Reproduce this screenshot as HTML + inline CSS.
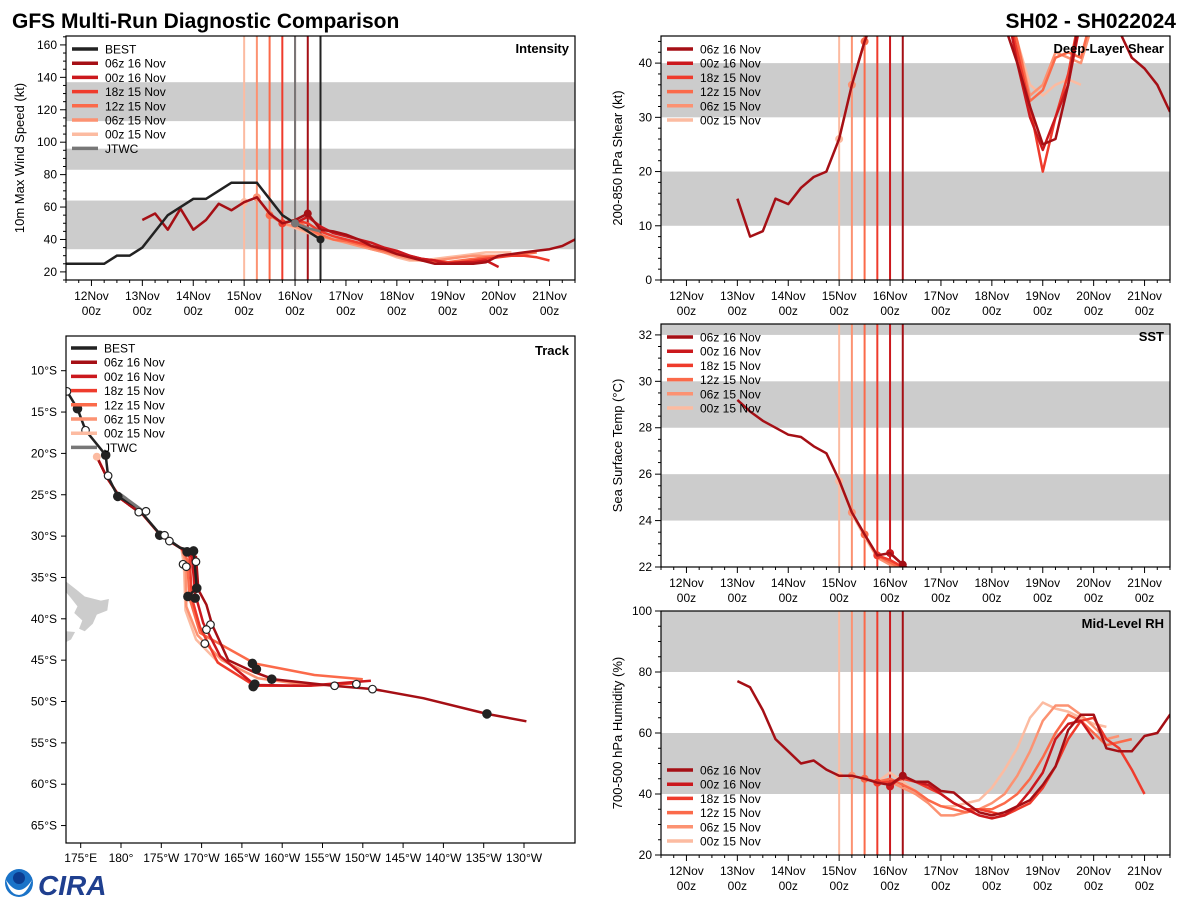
<!DOCTYPE html>
<html><head><meta charset="utf-8">
<style>
html,body{margin:0;padding:0;background:#fff;}
svg{display:block;font-family:"Liberation Sans","DejaVu Sans",sans-serif;}
</style></head>
<body>
<svg id="chart" width="1200" height="900" viewBox="0 0 1200 900" xmlns="http://www.w3.org/2000/svg">
<text x="12" y="28" font-size="21" font-weight="bold" fill="#000">GFS Multi-Run Diagnostic Comparison</text>
<text x="1176" y="28" font-size="21" font-weight="bold" fill="#000" text-anchor="end">SH02 - SH022024</text>
<g>
<circle cx="19" cy="883" r="14" fill="#1a73c8"/>
<path d="M6,880 Q19,900 32,880 Q26,895 19,895 Q10,895 6,880Z" fill="#fff"/>
<circle cx="19" cy="878" r="6" fill="#0b3d91"/>
</g>
<text x="38" y="895" font-size="28" font-weight="bold" font-style="italic" fill="#1f3f8f">CIRA</text>
<g id="root"></g>
</svg>
<script>
const NS="http://www.w3.org/2000/svg";
const root=document.getElementById('root');
function mk(tag,attrs,parent){const e=document.createElementNS(NS,tag);for(const k in attrs)e.setAttribute(k,attrs[k]);(parent||root).appendChild(e);return e;}

/* ---------- data ---------- */
const runNames=["06z 16 Nov","00z 16 Nov","18z 15 Nov","12z 15 Nov","06z 15 Nov","00z 15 Nov"];
const runColors=["#a50f15","#cb181d","#ef3b2c","#fb6a4a","#fc9272","#fcbba1"];
const runInit=[16.25,16.0,15.75,15.5,15.25,15.0];
const runStart=[13.0,16.0,15.75,15.5,15.25,15.0];
const dayTicks=[12,13,14,15,16,17,18,19,20,21];
const dayLabels=["12Nov","13Nov","14Nov","15Nov","16Nov","17Nov","18Nov","19Nov","20Nov","21Nov"];

const bestStart=11.5;
const bestIntensity=[25,25,25,25,30,30,35,45,55,60,65,65,70,75,75,75,65,55,50,45,40];
const jtwcStart=16.0;
const jtwcIntensity=[50,47,45];
const intensityRuns=[
 [52,56,46,59,46,52,62,58,63,66,56,50,52,56,46,45,43,40,36,34,31,29,27,25,25,25,25,26,30,31,32,33,34,36,40],
 [50,54,48,44,42,40,38,35,33,30,28,27,25,26,26,27,23],
 [50,52,50,45,42,40,38,36,34,32,30,28,27,26,26,27,28,29,30,30,29,27],
 [55,50,52,47,43,40,39,37,35,33,31,29,27,26,26,27,28,29,30,30,31,32],
 [66,56,50,48,45,42,40,38,36,34,32,30,28,27,27,28,29,30,30,30,30],
 [63,66,55,50,47,44,42,40,38,36,34,32,29,27,27,28,29,30,31,32,32,32]
];
const shearRuns=[
 [15,8,9,15,14,17,19,20,26,36,44,50,55,58,60,60,60,60,60,60,60,47,40,32,25,26,36,50,55,52,46,41,39,36,31],
 [56,58,58,58,58,58,58,58,58,52,40,30,24,30,36,48,56],
 [52,56,58,58,58,58,58,58,58,58,52,42,32,20,30,38,50],
 [44,52,56,58,58,58,58,58,58,58,58,52,44,33,35,41,42,41,50],
 [36,44,52,56,58,58,58,58,58,58,58,58,52,44,34,36,42,41,40,48],
 [26,36,44,52,56,58,58,58,58,58,58,58,58,52,44,36,34,36,37,36]
];
const sstRuns=[
 [29.2,28.7,28.3,28.0,27.7,27.6,27.2,26.9,25.75,24.35,23.4,22.5,22.6,22.1,21.6,21.2,20.8],
 [22.6,22.1,21.7,21.3,21.0],
 [22.5,22.3,22.0,21.6,21.2],
 [23.4,22.5,22.2,21.9,21.5],
 [24.35,23.4,22.4,22.1,21.8,21.4],
 [25.7,24.3,23.3,22.4,22.1,21.9,21.5]
];
const rhRuns=[
 [77,75,67.5,58,54,50,51,48,46,46,45,43.7,43,46,44,44,41,40.5,37,34,33,34,36,38,43,49,61,66,66,55,54,54,59,60,66,66.5],
 [42.5,46,44,43,40,37,35,33,32,33,36,41,47,58,63,64,58],
 [43.7,44,45,44,42,40,37,35,35,34,33,35,37,42,49,58,64,65,58,55,48,40],
 [45,44,45,43,41,38,36,35,34,35,35,37,40,45,52,60,66,64,60,56,57,58],
 [46,45,44,44,42,40,37,33,33,34,35,37,40,46,54,64,69,69,66,62,58,59],
 [46,46,45,44,47,44,41,38,36,36,37,38,42,48,55,65,70,68,67,65,63,62]
];

/* track data: [lon east 0-360, lat south] */
const bestTrack=[[173.3,12.5],[174.6,14.6],[175.6,17.2],[178.1,20.2],[178.4,22.8],[179.6,25.2],[182,26.5],[184.6,29.5],[187.3,31.4],[189.0,31.8],[189.4,36.3],[188.3,37.3]];
const jtwcTrack=[[180,25],[182.5,26.8]];
const trackCommon=[[177.0,20.4],[178.3,23.0],[180,25.5],[182.8,27.5],[185,30],[187.5,31.5]];
const trackRuns=[
 [[189.3,32.5],[189.6,36.5],[190.6,38.3],[191.3,40.7],[193.3,45.0],[196.4,46.4],[198.9,47.3],[206.3,48.1],[211.3,48.5],[217.5,49.6],[225.4,51.5],[230.3,52.4]],
 [[188.8,32.5],[189.2,37],[190.2,40.5],[192.3,44.5],[196.6,48.0],[203,48.1],[211,47.5]],
 [[188.5,32.5],[188.8,37.5],[189.8,41],[192.0,45.3],[196.6,48.1],[203.4,48.1],[209,47.8]],
 [[188.2,32.8],[188.5,37.5],[189.8,41.7],[196.6,45.4],[204,46.8],[210,47.3]],
 [[188,33],[188.1,38.5],[189.5,42],[192.5,45],[197,47.2],[203.7,48.1]],
 [[187.8,33.5],[188,39],[189.3,42.5],[192.3,45.5],[196.6,48.1]]
];
const trackMarkers=[[173.3,12.5,0],[174.6,14.6,1],[175.6,17.2,0],[178.1,20.2,1],[178.4,22.7,0],[179.6,25.2,1],[182.2,27.1,0],[183.1,27.0,0],[184.8,29.9,1],[185.4,29.9,0],[186.0,30.6,0],[188.2,31.9,1],[189.0,31.8,1],[187.7,33.4,0],[188.1,33.7,0],[189.3,33.1,0],[189.4,36.3,1],[188.3,37.3,1],[189.2,37.5,1],[191.1,40.7,0],[190.6,41.3,0],[190.4,43.0,0],[196.3,45.4,1],[196.8,46.1,1],[198.7,47.3,1],[196.4,48.2,1],[196.6,47.9,1],[206.5,48.1,0],[209.2,47.9,0],[211.2,48.5,0],[225.4,51.5,1]];
const lonTicks=[175,180,185,190,195,200,205,210,215,220,225,230];
const lonLabels=["175°E","180°","175°W","170°W","165°W","160°W","155°W","150°W","145°W","140°W","135°W","130°W"];
const latTicks=[10,15,20,25,30,35,40,45,50,55,60,65];

/* ---------- generic time-series panel ---------- */
let clipId=0;
function panel(cfg){
  const {x0,x1,y0,y1,ymin,ymax}=cfg;
  const X=d=>x0+(d-11.5)/10*(x1-x0);
  const Y=v=>y1-(v-ymin)/(ymax-ymin)*(y1-y0);
  const g=mk('g',{});
  
  
  const cid='clip'+(clipId++);
  const cp=mk('clipPath',{id:cid},g);mk('rect',{x:x0,y:y0,width:x1-x0,height:y1-y0},cp);
  const pg=mk('g',{'clip-path':'url(#'+cid+')'},g);
  cfg.bands.forEach(b=>{
    const r=mk('rect',{x:x0,y:Y(b[1]),width:x1-x0,height:Y(b[0])-Y(b[1]),fill:'#cccccc'},pg);
    
    
  });
  cfg.vlines.forEach(v=>{
    const l=mk('line',{x1:X(v[0]),x2:X(v[0]),y1:y0,y2:y1,stroke:v[1],'stroke-width':2},pg);
    
    
  });
  for(let i=5;i>=0;i--){
    const vals=cfg.runs[i];
    const pts=vals.map((v,k)=>X(runStart[i]+k*0.25).toFixed(1)+','+Y(v).toFixed(1)).join(' ');
    const pl=mk('polyline',{points:pts,fill:'none',stroke:runColors[i],'stroke-width':2.5,'stroke-linejoin':'round'},pg);
    
    
    const k=Math.round((runInit[i]-runStart[i])/0.25);
    if(k<vals.length){
      const c=mk('circle',{cx:X(runInit[i]),cy:Y(vals[k]),r:4,fill:runColors[i]},pg);
      
      
    }
  }
  if(cfg.extra)cfg.extra(pg,X,Y);
  const fr=mk('rect',{x:x0,y:y0,width:x1-x0,height:y1-y0,fill:'none',stroke:'#000','stroke-width':1.2},g);
  
  
  for(let d=11.5;d<=21.5+1e-6;d+=0.25){
    const major=Math.abs(d-Math.round(d))<1e-6;
    mk('line',{x1:X(d),x2:X(d),y1:y1,y2:y1+(major?6:3),stroke:'#000','stroke-width':1},g);
  }
  dayTicks.forEach((d,i)=>{
    const t=mk('text',{x:X(d),y:y1+20,'font-size':12,'text-anchor':'middle'},g);t.textContent=dayLabels[i];
    
    
    const t2=mk('text',{x:X(d),y:y1+35,'font-size':12,'text-anchor':'middle'},g);t2.textContent='00z';
    
    
  });
  for(let v=cfg.yminor0;v<=ymax+1e-6;v+=cfg.minor){
    const major=Math.abs((v-cfg.majorBase)/cfg.major-Math.round((v-cfg.majorBase)/cfg.major))<1e-6;
    if(v<ymin-1e-6)continue;
    mk('line',{x1:x0,x2:x0-(major?6:3),y1:Y(v),y2:Y(v),stroke:'#000','stroke-width':1},g);
    if(major){
      const t=mk('text',{x:x0-9,y:Y(v)+4,'font-size':12,'text-anchor':'end'},g);t.textContent=String(v);
      
      
    }
  }
  const yt=mk('text',{x:0,y:0,'font-size':13,'text-anchor':'middle',transform:`translate(${cfg.ylabX},${(y0+y1)/2}) rotate(-90)`},g);
  yt.textContent=cfg.ylabel;
  
  
  const pt=mk('text',{x:x1-6,y:y0+17,'font-size':13,'font-weight':'bold','text-anchor':'end'},g);
  pt.textContent=cfg.title;
  
  
  legend(g,x0+6,cfg.legY,cfg.legItems);
}
function legend(g,x,y,items){
  const lg=mk('g',{},g);
  
  
  items.forEach((it,i)=>{
    const yy=y+i*14.2;
    mk('line',{x1:x,x2:x+26,y1:yy,y2:yy,stroke:it[1],'stroke-width':3.5},lg);
    const t=mk('text',{x:x+33,y:yy+4.5,'font-size':12},lg);t.textContent=it[0];
    
    
  });
}
const runLegend=runNames.map((n,i)=>[n,runColors[i]]);
const vl=[[15.0,runColors[5]],[15.25,runColors[4]],[15.5,runColors[3]],[15.75,runColors[2]],[16.0,runColors[1]],[16.25,runColors[0]]];

panel({name:'intensity',x0:66,x1:575,y0:36,y1:280,ymin:15,ymax:165.5,bands:[[34,64],[83,96],[113,137]],
  vlines:[[15.0,runColors[5]],[15.25,runColors[4]],[15.5,runColors[3]],[15.75,runColors[2]],[16.0,runColors[1]],[16.25,runColors[0]],[16.0,'#777'],[16.5,'#222']],
  runs:intensityRuns,major:20,majorBase:0,minor:5,yminor0:15,ylabX:24,ylabel:'10m Max Wind Speed (kt)',title:'Intensity',legY:49,
  legItems:[['BEST','#222']].concat(runLegend,[['JTWC','#777']]),
  extra:(pg,X,Y)=>{
    const b=mk('polyline',{points:bestIntensity.map((v,k)=>X(bestStart+k*0.25)+','+Y(v)).join(' '),fill:'none',stroke:'#222','stroke-width':2.5},pg);
    
    
    const bc=mk('circle',{cx:X(bestStart+(bestIntensity.length-1)*0.25),cy:Y(bestIntensity[bestIntensity.length-1]),r:4,fill:'#222'},pg);
    
    
    const j=mk('polyline',{points:jtwcIntensity.map((v,k)=>X(jtwcStart+k*0.25)+','+Y(v)).join(' '),fill:'none',stroke:'#777','stroke-width':2.5},pg);
    
    
    const jc=mk('circle',{cx:X(jtwcStart),cy:Y(jtwcIntensity[0]),r:4,fill:'#777'},pg);
    
    
  }});
panel({name:'shear',x0:661,x1:1170,y0:36,y1:280,ymin:0,ymax:45,bands:[[10,20],[30,40]],vlines:vl,runs:shearRuns,
  major:10,majorBase:0,minor:2,yminor0:0,ylabX:622,ylabel:'200-850 hPa Shear (kt)',title:'Deep-Layer Shear',legY:49,legItems:runLegend});
panel({name:'sst',x0:661,x1:1170,y0:324,y1:567,ymin:22,ymax:32.47,bands:[[24,26],[28,30],[32,33]],vlines:vl,runs:sstRuns,
  major:2,majorBase:0,minor:0.5,yminor0:22,ylabX:622,ylabel:'Sea Surface Temp (°C)',title:'SST',legY:337,legItems:runLegend});
panel({name:'rh',x0:661,x1:1170,y0:611,y1:855,ymin:20,ymax:100,bands:[[40,60],[80,100]],vlines:vl,runs:rhRuns,
  major:20,majorBase:0,minor:5,yminor0:20,ylabX:622,ylabel:'700-500 hPa Humidity (%)',title:'Mid-Level RH',legY:770,legItems:runLegend});

/* ---------- track panel ---------- */
(function(){
  const x0=66,x1=575,y0=336,y1=843;
  const LX=lon=>80.7+(lon-175)*8.06;
  const LY=lat=>370.7+(lat-10)*8.27;
  const g=mk('g',{});
  
  
  const cp=mk('clipPath',{id:'trk'},g);mk('rect',{x:x0,y:y0,width:x1-x0,height:y1-y0},cp);
  const pg=mk('g',{'clip-path':'url(#trk)'},g);
  const land=mk('polygon',{points:[[173.2,35.5],[174.5,36.5],[175.5,37.3],[177.5,37.8],[178.5,37.6],[178.3,39],[177,39.5],[176.5,40.6],[175.5,41.5],[174.8,41.2],[175.2,40.2],[174.2,39.3],[174.6,38.5],[173.8,37.5],[173.2,36.8]].map(p=>LX(p[0])+','+LY(p[1])).join(' '),fill:'#cccccc'},pg);
  
  
  const land2=mk('polygon',{points:[[173.2,41.5],[174.3,41.6],[173.8,42.5],[173.2,42.8]].map(p=>LX(p[0])+','+LY(p[1])).join(' '),fill:'#cccccc'},pg);
  
  
  for(let i=5;i>=0;i--){
    const pts=trackCommon.concat(trackRuns[i]).map(p=>LX(p[0]).toFixed(1)+','+LY(p[1]).toFixed(1)).join(' ');
    const pl=mk('polyline',{points:pts,fill:'none',stroke:runColors[i],'stroke-width':2.5,'stroke-linejoin':'round'},pg);
    
    
  }
  const bt=mk('polyline',{points:bestTrack.map(p=>LX(p[0])+','+LY(p[1])).join(' '),fill:'none',stroke:'#222','stroke-width':2.5},pg);
  
  
  const jt=mk('polyline',{points:jtwcTrack.map(p=>LX(p[0])+','+LY(p[1])).join(' '),fill:'none',stroke:'#777','stroke-width':3},pg);
  
  
  const fc=mk('circle',{cx:LX(177.0),cy:LY(20.4),r:4,fill:'#fcbba1'},pg);
  
  
  trackMarkers.forEach(m=>{
    const c=mk('circle',{cx:LX(m[0]),cy:LY(m[1]),r:m[2]?4.2:3.8,fill:m[2]?'#222':'#fff',stroke:'#222','stroke-width':1.2},pg);
    
    
  });
  const fr=mk('rect',{x:x0,y:y0,width:x1-x0,height:y1-y0,fill:'none',stroke:'#000','stroke-width':1.2},g);
  
  
  lonTicks.forEach((lon,i)=>{
    mk('line',{x1:LX(lon),x2:LX(lon),y1:y1,y2:y1+5,stroke:'#000'},g);
    const t=mk('text',{x:LX(lon),y:y1+19,'font-size':12,'text-anchor':'middle'},g);t.textContent=lonLabels[i];
    
    
  });
  latTicks.forEach(lat=>{
    mk('line',{x1:x0,x2:x0-5,y1:LY(lat),y2:LY(lat),stroke:'#000'},g);
    const t=mk('text',{x:x0-9,y:LY(lat)+4,'font-size':12,'text-anchor':'end'},g);t.textContent=lat+'°S';
    
    
  });
  const pt=mk('text',{x:x1-6,y:y0+19,'font-size':13,'font-weight':'bold','text-anchor':'end'},g);
  pt.textContent='Track';
  
  
  legend(g,71,348,[['BEST','#222']].concat(runLegend,[['JTWC','#777']]));
})();
</script>
</body></html>
